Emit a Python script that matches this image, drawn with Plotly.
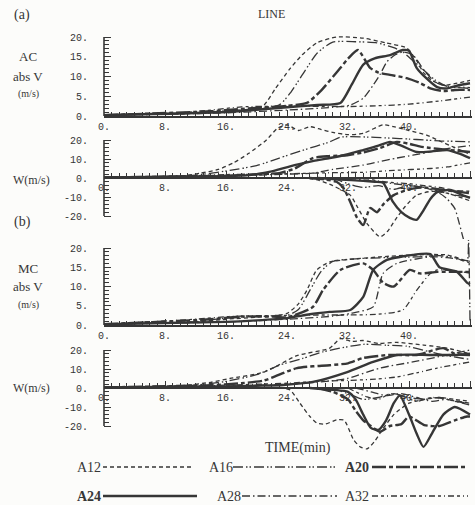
import plotly.graph_objects as go

# ---------------- data (time in min, value) ----------------
SERIES = ["A12", "A16", "A20", "A24", "A28", "A32"]
TIME_TICKS = [0, 8, 16, 24, 32, 40, 48]
TIME_TICK_TEXT = ["0.", "8.", "16.", "24.", "32.", "40.", "48."]
V_TICKS = [0, 5, 10, 15, 20]
V_TICK_TEXT = ["0.", "5.", "10.", "15.", "20."]
W_TICKS = [-20, -10, 0, 10, 20]
W_TICK_TEXT = ["-20.", "-10.", "0.", "10.", "20."]

# (a) AC abs V
AC_V = {
    "A12": ([0, 10, 14, 18, 20, 21, 22.5, 24.4, 26, 27.9, 30.5, 34, 37, 39.7, 41, 41.9, 43, 44.5, 46, 48],
            [0.3, 0.5, 1.0, 1.5, 2.0, 2.8, 7, 12, 15.5, 18.5, 20, 19.7, 18.5, 17.2, 14, 11, 9, 7.8, 8.2, 9]),
    "A16": ([0, 12, 16, 20, 23, 24.5, 26, 28, 30, 33, 35.8, 38, 39.2, 40.5, 42, 43.5, 45, 48],
            [0.2, 0.8, 1.3, 1.8, 2.8, 6, 10.4, 16, 18.7, 18.8, 18.5, 17.3, 16.2, 14, 11.5, 9, 7.5, 7]),
    "A20": ([0, 14, 18, 22, 24, 26.6, 28.5, 30.5, 32, 33.3, 34.9, 36, 37.5, 39.7, 41.5, 42.8, 44.5, 46, 48],
            [0.2, 1.2, 1.8, 2.3, 2.6, 3.3, 6.5, 11, 14.5, 16.7, 12.2, 11, 10.4, 9.6, 8.3, 7.0, 6.3, 6.6, 6.6]),
    "A24": ([0, 16, 20, 24, 28, 31, 32.5, 34, 35.5, 37.5, 39.2, 40, 41, 42.3, 43.7, 45, 46.5, 48],
            [0.2, 1.0, 1.6, 2.2, 2.8, 3.3, 8, 13, 14.6, 15.4, 16.7, 16.5, 12.2, 9.5, 7.3, 7.0, 7.8, 8.3]),
    "A28": ([0, 16, 24, 30, 32.3, 34, 35.3, 36.2, 37.1, 38.2, 39.2, 40.5, 42, 43.5, 45, 48],
            [0.2, 0.8, 1.5, 2.2, 2.8, 4.5, 7.8, 10.5, 13.7, 15.5, 16.2, 15.5, 11.5, 8.5, 7.6, 7.2]),
    "A32": ([0, 10, 14, 18, 24, 32, 36, 40, 44, 48],
            [0.3, 0.8, 1.5, 2.3, 2.5, 2.4, 2.6, 3.0, 3.8, 4.8]),
}

# (a) AC W, upward part and downward part
AC_W_UP = {
    "A12": ([0, 10, 12.6, 15, 17, 19, 21.3, 22.7, 24, 25.5, 27, 28.5, 30, 32, 34, 36.6, 38, 40, 42.3, 44, 46, 48],
            [0.3, 1, 2.5, 4.5, 8, 13, 20, 26, 28, 25, 27, 25.5, 24, 22.8, 23.5, 28, 27, 25, 22.6, 19.5, 16, 12.5]),
    "A16": ([0, 12, 16.5, 20, 23, 26, 29.6, 31, 35, 37.5, 40, 42, 44, 46, 48],
            [0.3, 1.5, 4, 6.5, 10.5, 14.5, 19, 21.5, 21.5, 21, 20.5, 20, 19.5, 19.3, 19]),
    "A20": ([0, 16, 20, 23, 25, 27.4, 29.5, 31.9, 34, 36.2, 38.4, 40, 41.5, 42.8, 44.5, 46, 48],
            [0.3, 1.2, 2, 2.6, 5, 10.5, 11.5, 12, 13.5, 15.8, 19, 18, 16.5, 15.8, 15, 14.5, 13.7]),
    "A24": ([0, 16, 19, 22, 25.3, 27.5, 29.6, 32, 34, 36, 37.5, 39, 41, 43, 45, 46.5, 48],
            [0.3, 1, 1.5, 3.5, 7, 9, 10.5, 12.5, 14.7, 17, 19, 17, 13.7, 14, 14.7, 13, 10.5]),
    "A28": ([0, 16, 22, 27.4, 30, 34, 36, 38.4, 40.5, 42.8, 45, 48],
            [0.3, 1, 1.8, 2.6, 4.5, 6.8, 8.5, 10.5, 12, 13.7, 15.5, 17]),
    "A32": ([0, 12, 16, 20.9, 26, 30, 34, 38, 42.8, 45, 48],
            [0.2, 1.2, 1.8, 2.0, 2.4, 2.8, 3.0, 4.0, 5.0, 5.8, 8.0]),
}
AC_W_DOWN = {
    "A12": ([26, 28, 30, 31, 32.3, 33.2, 34.5, 36.2, 37.2, 38.2, 39.5, 41, 43, 45, 48],
            [0, -1, -4, -6, -9, -15, -24, -31, -28, -22, -15, -9, -7, -8, -12]),
    "A16": ([30, 32, 34, 36, 38, 40, 42, 44, 46, 48],
            [0, -3, -5, -4, -6, -4, -5, -7, -9, -10]),
    "A20": ([27, 29, 30.5, 31.4, 32.3, 33.2, 34, 34.9, 35.8, 36.6, 38, 40, 42, 44, 46, 48],
            [0, -0.8, -2, -5.3, -12.6, -21, -24.7, -15.8, -18, -14, -9, -6, -5, -6, -7, -8]),
    "A24": ([28, 31, 34, 35.5, 36.6, 37.9, 39, 40.1, 41, 41.9, 42.8, 43.7, 45.4, 47, 48],
            [0, -0.8, -1.5, -2, -2.5, -12.6, -18, -21, -22, -17, -11, -7.4, -6.3, -9, -10.5]),
    "A28": ([32, 35, 38, 40, 42, 44, 45, 46, 46.6, 47.2, 47.8],
            [0, -1.5, -3, -4, -5, -8, -11, -16, -24, -33, -40]),
    "A32": ([34, 36, 38, 40, 42, 44, 46, 48],
            [0, -1.5, -2.5, -3, -4, -5, -6.5, -7]),
}

# (b) MC abs V
MC_V = {
    "A12": ([0, 12, 16, 20, 22, 24, 25.5, 26.6, 27.9, 29.6, 32, 36.2, 40.5, 45, 47, 48],
            [0.2, 0.8, 1.5, 2.0, 2.3, 3.0, 5.5, 9, 14.3, 16.4, 17, 17.7, 18.2, 18.2, 17, 16]),
    "A16": ([0, 12, 16, 20, 24, 25.5, 27, 28.5, 30, 33, 37, 41, 44, 46, 47.6, 47.8, 48],
            [0.2, 0.9, 1.8, 2.2, 2.5, 4, 9, 14, 16.5, 17.2, 17.5, 17.7, 18, 17.5, 16.5, 22, 1.0]),
    "A20": ([0, 14, 18, 22, 24, 27.4, 28.7, 31, 34, 35.3, 36.6, 38, 40.1, 41.4, 43.7, 46.3, 48],
            [0.2, 1.5, 2.2, 2.2, 2.0, 4.7, 9, 14.3, 16, 14.3, 11, 10, 14.3, 13.4, 13.8, 13.8, 13.8]),
    "A24": ([0, 16, 20, 24, 27, 29.6, 32.3, 34, 35.3, 37.1, 40.5, 42.8, 44, 46.3, 47.6, 48],
            [0.2, 0.8, 1.2, 1.8, 2.8, 3.4, 3.9, 7.3, 14.3, 16.9, 18.2, 18.4, 15, 13.8, 11, 10.5]),
    "A28": ([0, 16, 24, 30, 32.3, 35.3, 36.6, 38.4, 42.8, 45, 48],
            [0.2, 0.8, 1.5, 2.3, 3, 4.7, 13.4, 16, 17.7, 17.5, 16.6]),
    "A32": ([0, 12, 16.4, 20, 24, 28, 32, 36, 39.2, 41, 42.8, 43.7, 46, 48],
            [0.2, 1.5, 2.2, 2.4, 2.5, 2.6, 2.6, 2.8, 3.9, 9, 13.4, 14.3, 14.0, 13.5]),
}

# (b) MC W
MC_W_UP = {
    "A12": ([0, 10, 14, 16.5, 21, 25.3, 29.6, 31, 32.5, 34, 36, 38.4, 41.9, 45, 48],
            [0.3, 1.2, 3, 5, 8.4, 17, 21, 26, 24.5, 25, 23.5, 24, 22.6, 21, 18]),
    "A16": ([0, 12, 16, 20, 23, 26, 28.7, 31, 34, 37, 39.7, 42.8, 45, 48],
            [0.3, 1.5, 3.5, 7, 12, 15.5, 19, 21, 23, 22.5, 22, 19, 17, 15]),
    "A20": ([0, 14, 18, 21, 25.3, 29.6, 32, 34, 37.5, 41, 44.5, 46, 48],
            [0.3, 1.5, 2.5, 4, 10.5, 12, 13, 15.8, 17.4, 17.4, 21, 18, 17.4]),
    "A24": ([0, 16, 20, 23.5, 27.4, 31.9, 35.3, 38.4, 42.8, 46.3, 48],
            [0.3, 0.8, 1.2, 1.6, 3.2, 8.4, 13.7, 17.4, 17.4, 17.4, 18]),
    "A28": ([0, 16, 24, 28, 31.9, 36.2, 40.5, 45, 48],
            [0.3, 1, 2, 3, 5, 10.5, 13.7, 17.4, 20]),
    "A32": ([0, 12, 16, 24, 28, 31.9, 35, 38.4, 41, 43.7, 48],
            [0.3, 1, 1.5, 2.5, 3.5, 4, 4.5, 5.8, 8, 10.5, 13.7]),
}
MC_W_DOWN = {
    "A12": ([23, 24.4, 25.7, 27, 27.9, 29, 30.5, 31.5, 32.7, 33.6, 34.5, 35.5, 36.5, 38, 40, 42, 44, 46, 48],
            [0, -1, -8, -15, -18.4, -19, -16.8, -17, -27, -31, -32, -28, -22, -14, -8, -6, -5, -6, -7]),
    "A16": ([30, 32, 34, 36, 38, 40, 42, 44, 46, 48],
            [0, -3, -6, -5, -3, -5, -6, -5, -7, -8]),
    "A20": ([28, 30, 32, 33, 34, 35, 36.2, 37.5, 39, 40, 42, 44, 46, 47.6, 48],
            [0, -2, -6, -12, -17, -20, -23, -20, -19, -15, -19.5, -20, -17, -15, -15]),
    "A24": ([27, 30, 32, 33, 34, 35, 36, 37, 38, 38.8, 40, 41, 41.9, 43, 44.5, 46, 48],
            [0, -1, -2, -6, -14, -21, -22, -17, -8, -4, -14, -24, -31, -24, -14, -10, -14]),
    "A28": ([33, 35, 37, 39, 41, 43, 45, 47, 48],
            [0, -2, -4, -3, -5, -7, -6, -8, -9]),
    "A32": ([32, 34.5, 36, 37.5, 39, 41, 43, 45, 48],
            [0, -4.7, -6, -3, -4, -7, -5, -6, -8]),
}

# ---------------- styling ----------------
INK = "#363636"
STYLE = {
    "A12": dict(dash="4px,3px", width=1.3),
    "A16": dict(dash="10px,3px,1.5px,2px,1.5px,3px", width=1.3),
    "A20": dict(dash="14px,3px,4px,3px", width=2.4),
    "A24": dict(dash="solid", width=2.4),
    "A28": dict(dash="8px,3px,1.5px,3px", width=1.3),
    "A32": dict(dash="6px,3px,3px,3px,1px,3px", width=1.3),
}

W, H = 475, 505
X0PX, X1PX = 104, 472
XMAX = 48 * (X1PX - X0PX) / (470 - X0PX)


def fx(px):
    return px / W


def fy(py):
    return 1 - py / H


fig = go.Figure()

panels = [
    (1, [AC_V]),
    (2, [AC_W_UP, AC_W_DOWN]),
    (3, [MC_V]),
    (4, [MC_W_UP, MC_W_DOWN]),
]
for idx, groups in panels:
    xa = "x" if idx == 1 else f"x{idx}"
    ya = "y" if idx == 1 else f"y{idx}"
    for g in groups:
        for s in SERIES:
            t, v = g[s]
            st = STYLE[s]
            fig.add_trace(go.Scatter(
                x=t, y=v, mode="lines", xaxis=xa, yaxis=ya, showlegend=False,
                line=dict(color=INK, width=st["width"], dash=st["dash"], shape="spline", smoothing=0.6),
                hoverinfo="skip"))

MONO = "Liberation Mono"
SERIF = "Liberation Serif"
tickfont = dict(family=MONO, size=10, color=INK)


def xaxis_cfg(anchor, position=None):
    d = dict(domain=[fx(X0PX), fx(X1PX)], range=[0, XMAX], automargin=False,
             tickmode="array", tickvals=TIME_TICKS, ticktext=TIME_TICK_TEXT,
             ticks="inside", ticklen=6, tickwidth=1, tickcolor=INK,
             minor=dict(tickmode="linear", tick0=0, dtick=1, ticks="inside", ticklen=4, tickwidth=1, tickcolor=INK),
             showline=True, linewidth=1.6, linecolor=INK, showgrid=False, zeroline=False,
             tickfont=tickfont, fixedrange=True)
    if position is None:
        d["anchor"] = anchor
    else:
        d["anchor"] = "free"
        d["position"] = position
    return d


def yaxis_cfg(anchor, top_px, bot_px, rng, ticks, ticktext, minor_vals):
    return dict(domain=[fy(bot_px), fy(top_px)], range=rng, anchor=anchor, automargin=False,
                tickmode="array", tickvals=ticks, ticktext=ticktext,
                ticks="inside", ticklen=7, tickwidth=1, tickcolor=INK,
                minor=dict(ticks="inside", ticklen=5, tickwidth=1, tickcolor=INK,
                           tickmode="array", tickvals=minor_vals),
                showline=False, showgrid=False, zeroline=False,
                tickfont=tickfont, ticklabelstandoff=15, fixedrange=True)


v_minor = list(range(0, 21))
w_minor = list(range(-20, 21, 2))

# panel geometry (pixels)
P1_ZERO, P1_PPU = 116, 3.95
P2_ZERO, P2_PPU = 178, 1.9
P3_ZERO, P3_PPU = 325, 3.85
P4_ZERO, P4_PPU = 388, 1.9
P1_TOP = 35
P2_TOP, P2_BOT = 119, 239
P3_TOP = 240
P4_TOP, P4_BOT = 335, 451

fig.update_layout(
    width=W, height=H, margin=dict(l=0, r=0, t=0, b=0, autoexpand=False),
    paper_bgcolor="#fcfcfa", plot_bgcolor="rgba(0,0,0,0)", showlegend=False,
    xaxis=xaxis_cfg("y"),
    yaxis=yaxis_cfg("x", P1_TOP, P1_ZERO, [0, (P1_ZERO - P1_TOP) / P1_PPU], V_TICKS, V_TICK_TEXT, v_minor),
    xaxis2=xaxis_cfg(None, position=fy(P2_ZERO)),
    yaxis2=yaxis_cfg("x2", P2_TOP, P2_BOT, [-(P2_BOT - P2_ZERO) / P2_PPU, (P2_ZERO - P2_TOP) / P2_PPU], W_TICKS, W_TICK_TEXT, w_minor),
    xaxis3=xaxis_cfg("y3"),
    yaxis3=yaxis_cfg("x3", P3_TOP, P3_ZERO, [0, (P3_ZERO - P3_TOP) / P3_PPU], V_TICKS, V_TICK_TEXT, v_minor),
    xaxis4=xaxis_cfg(None, position=fy(P4_ZERO)),
    yaxis4=yaxis_cfg("x4", P4_TOP, P4_BOT, [-(P4_BOT - P4_ZERO) / P4_PPU, (P4_ZERO - P4_TOP) / P4_PPU], W_TICKS, W_TICK_TEXT, w_minor),
)

# y-axis spines limited to the labelled span
for idx, (lo, hi) in zip([1, 2, 3, 4], [(0, 20), (-20, 20), (0, 20), (-20, 20)]):
    xr = "x domain" if idx == 1 else f"x{idx} domain"
    yr = "y" if idx == 1 else f"y{idx}"
    fig.add_shape(type="line", xref=xr, yref=yr, x0=0, x1=0, y0=lo, y1=hi,
                  line=dict(color=INK, width=1.6))


# text labels
def note(text, x, y, size=13, family=SERIF, xanchor="center", bold=False):
    if bold:
        text = f"<b>{text}</b>"
    fig.add_annotation(text=text, x=fx(x), y=fy(y), xref="paper", yref="paper",
                       showarrow=False, xanchor=xanchor, yanchor="middle",
                       font=dict(family=family, size=size, color=INK))


note("(a)", 22, 15, 14)
note("LINE", 271, 14, 12)
note("AC", 28, 57, 13)
note("abs V", 28, 76, 13)
note("(m/s)", 28, 94, 10)
note("W(m/s)", 31, 180, 12)
note("(b)", 22, 222, 14)
note("MC", 28, 268, 13)
note("abs V", 28, 286, 13)
note("(m/s)", 28, 305, 10)
note("W(m/s)", 31, 388, 12)
note("TIME(min)", 298, 448, 14)

# legend: label followed by line sample
LEG = [
    ("A12", 75, 103, 192, 467),
    ("A16", 207, 233, 337, 467),
    ("A20", 343, 372, 468, 467),
    ("A24", 75, 103, 197, 496),
    ("A28", 215, 242, 337, 496),
    ("A32", 343, 372, 468, 496),
]
for s, xt, xl0, xl1, yy in LEG:
    note(s, xt, yy, 14, family=SERIF, xanchor="left", bold=s in ("A20", "A24"))
    st = STYLE[s]
    fig.add_shape(type="line", xref="paper", yref="paper",
                  x0=fx(xl0), x1=fx(xl1), y0=fy(yy), y1=fy(yy),
                  line=dict(color=INK, width=st["width"], dash=st["dash"]))

html = fig.to_html(full_html=True, include_plotlyjs=True, config={"displayModeBar": False})
html = html.replace("<head>", "<head><style>html,body{margin:0;padding:0;overflow:hidden;}</style>", 1)
with open("out.html", "w", encoding="utf-8") as f:
    f.write(html)
